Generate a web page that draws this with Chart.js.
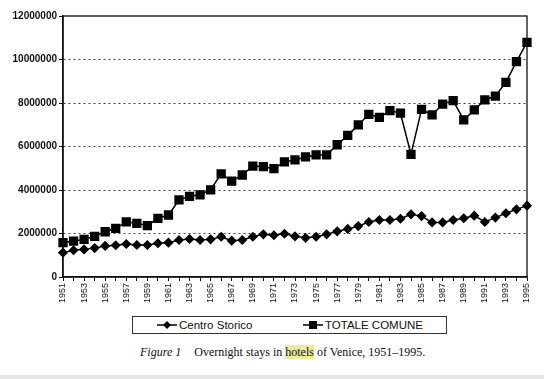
<!DOCTYPE html>
<html lang="en">
    <head>
        <meta charset="UTF-8" />
        <title>Overnight stays in hotels of Venice</title>
        <script src="https://cdn.jsdelivr.net/npm/chart.js@4"></script>
    </head>
    <body>
        <style>
            * {
                padding: 0;
                margin: 0;
                box-sizing: border-box;
            }

            body {
                width: 544px;
                height: 379px;
                background-color: #fff;
                position: relative;
                overflow: hidden;
            }

            .chart-container {
                position: absolute;
                left: 0;
                top: 0;
                width: 544px;
                height: 310px;
            }

            .legend {
                position: absolute;
                left: 132px;
                top: 316px;
                width: 315px;
                height: 18px;
                border: 1px solid #333;
                font-family: "Liberation Sans", Arial, sans-serif;
                font-size: 11.5px;
                color: #111;
            }

            .legend-item {
                position: absolute;
                top: 0;
                height: 16px;
                line-height: 16px;
                white-space: nowrap;
            }

            .legend-item svg {
                position: absolute;
                left: 0;
                top: 2px;
            }

            .legend-item span {
                position: absolute;
                left: 22px;
            }

            .caption {
                position: absolute;
                left: 140px;
                top: 345px;
                font-family: "Liberation Serif", "Times New Roman", serif;
                font-size: 12px;
                color: #111;
                white-space: nowrap;
            }

            .caption i {
                margin-right: 13px;
            }

            .caption mark {
                background-color: #ecec9c;
                color: #111;
            }

            .band {
                position: absolute;
                left: 0;
                top: 375px;
                width: 544px;
                height: 4px;
                background-color: #e6e6e6;
            }
        </style>

        <div class="chart-container">
            <canvas id="veniceChart"></canvas>
        </div>

        <div class="legend">
            <div class="legend-item" style="left: 24px">
                <svg width="20" height="12">
                    <line x1="0" y1="6" x2="20" y2="6" stroke="#000" stroke-width="1.5" />
                    <polygon points="10,2 14,6 10,10 6,6" fill="#000" />
                </svg>
                <span>Centro Storico</span>
            </div>
            <div class="legend-item" style="left: 170px">
                <svg width="20" height="12">
                    <line x1="0" y1="6" x2="20" y2="6" stroke="#000" stroke-width="1.5" />
                    <rect x="6" y="2" width="8" height="8" fill="#000" />
                </svg>
                <span>TOTALE COMUNE</span>
            </div>
        </div>

        <div class="caption">
            <i>Figure 1</i>Overnight stays in <mark>hotels</mark> of Venice, 1951–1995.
        </div>

        <div class="band"></div>

        <script>
            const years = [
                "1951", "1952", "1953", "1954", "1955", "1956", "1957", "1958", "1959",
                "1960", "1961", "1962", "1963", "1964", "1965", "1966", "1967", "1968",
                "1969", "1970", "1971", "1972", "1973", "1974", "1975", "1976", "1977",
                "1978", "1979", "1980", "1981", "1982", "1983", "1984", "1985", "1986",
                "1987", "1988", "1989", "1990", "1991", "1992", "1993", "1994", "1995",
            ];

            const centroStorico = [
                1120000, 1230000, 1270000, 1330000, 1430000, 1460000, 1520000, 1470000,
                1470000, 1550000, 1580000, 1700000, 1750000, 1700000, 1730000, 1850000,
                1670000, 1700000, 1850000, 1960000, 1920000, 1990000, 1870000, 1800000,
                1850000, 1960000, 2100000, 2210000, 2340000, 2530000, 2620000, 2620000,
                2680000, 2880000, 2800000, 2510000, 2510000, 2620000, 2700000, 2820000,
                2530000, 2730000, 2930000, 3110000, 3280000,
            ];

            const totaleComune = [
                1580000, 1650000, 1730000, 1870000, 2080000, 2240000, 2530000, 2470000,
                2360000, 2700000, 2850000, 3550000, 3710000, 3780000, 4010000, 4740000,
                4410000, 4690000, 5100000, 5070000, 4980000, 5290000, 5380000, 5520000,
                5610000, 5610000, 6080000, 6510000, 6990000, 7480000, 7340000, 7650000,
                7530000, 5640000, 7710000, 7450000, 7950000, 8110000, 7220000, 7680000,
                8140000, 8320000, 8950000, 9900000, 10790000,
            ];

            const yTicks = [0, 2000000, 4000000, 6000000, 8000000, 10000000, 12000000];

            // box round the plot area (top and right sides)
            const plotFrame = {
                id: "plotFrame",
                afterDraw(chart) {
                    const { ctx, chartArea } = chart;
                    ctx.save();
                    ctx.strokeStyle = "#111";
                    ctx.lineWidth = 1.3;
                    ctx.strokeRect(
                        chartArea.left,
                        chartArea.top,
                        chartArea.right - chartArea.left,
                        chartArea.bottom - chartArea.top
                    );
                    ctx.restore();
                },
            };

            const ctx = document.getElementById("veniceChart").getContext("2d");
            new Chart(ctx, {
                type: "line",
                data: {
                    labels: years,
                    datasets: [
                        {
                            label: "Centro Storico",
                            data: centroStorico,
                            borderColor: "#000",
                            backgroundColor: "#000",
                            borderWidth: 1.5,
                            pointStyle: "rectRot",
                            pointRadius: 4,
                            tension: 0,
                        },
                        {
                            label: "TOTALE COMUNE",
                            data: totaleComune,
                            borderColor: "#000",
                            backgroundColor: "#000",
                            borderWidth: 1.5,
                            pointStyle: "rect",
                            pointRadius: 5.5,
                            tension: 0,
                        },
                    ],
                },
                options: {
                    responsive: true,
                    maintainAspectRatio: false,
                    animation: false,
                    layout: {
                        padding: { top: 16, right: 17, left: 0, bottom: 0 },
                    },
                    plugins: {
                        legend: { display: false },
                        tooltip: { enabled: false },
                    },
                    scales: {
                        x: {
                            offset: false,
                            afterFit(scale) {
                                scale.height = 33;
                            },
                            grid: {
                                drawOnChartArea: false,
                                drawTicks: true,
                                tickLength: 4,
                                color: "#111",
                            },
                            border: { color: "#111", width: 1.5 },
                            ticks: {
                                autoSkip: false,
                                maxRotation: 90,
                                minRotation: 90,
                                padding: 2,
                                color: "#111",
                                font: { family: "Liberation Sans", size: 9 },
                                callback: function (value, index) {
                                    return index % 2 === 0 ? years[index] : "";
                                },
                            },
                        },
                        y: {
                            min: 0,
                            max: 12000000,
                            afterFit(scale) {
                                scale.width = 63;
                            },
                            afterBuildTicks(scale) {
                                scale.ticks = yTicks.map((v) => ({ value: v }));
                            },
                            grid: {
                                tickLength: 4,
                                tickColor: "#111",
                                color: function (c) {
                                    const v = c.tick ? c.tick.value : 0;
                                    return v === 0 || v === 12000000 ? "rgba(0,0,0,0)" : "#444";
                                },
                            },
                            border: { color: "#111", width: 1.5, dash: [2, 3] },
                            ticks: {
                                padding: 2,
                                color: "#111",
                                font: { family: "Liberation Sans", size: 10, weight: "bold" },
                                callback: function (value) {
                                    return String(value);
                                },
                            },
                        },
                    },
                },
                plugins: [plotFrame],
            });
        </script>
    </body>
</html>
